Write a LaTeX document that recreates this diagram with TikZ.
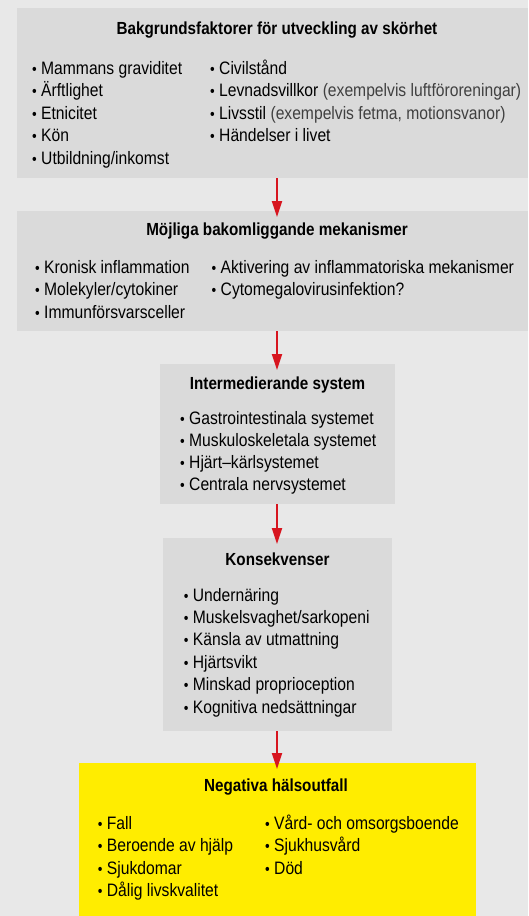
\documentclass[tikz,border=0pt]{standalone}
\usepackage{fontspec}
\setmainfont{Liberation Sans}[FakeStretch=0.87]
\usepackage{xcolor}
\usepackage{graphicx}
\usetikzlibrary{positioning, calc, arrows.meta}

\definecolor{bakgrund}{RGB}{232,232,232}
\definecolor{rutagra}{RGB}{218,218,218}
\definecolor{gul}{RGB}{255,237,0}
\definecolor{pilrod}{RGB}{215,21,31}
\newcommand{\pkt}{\makebox[9pt][l]{\scalebox{0.85}{•}}}
\newcommand{\lat}[1]{{\color{black!75}#1}}

\begin{document}
\begin{tikzpicture}[x=1pt, y=-1pt,
    ruta/.style={fill=rutagra, inner sep=0pt, anchor=north west},
    rubrik/.style={font=\bfseries\fontsize{17.5}{20}\selectfont, anchor=base, inner sep=0pt},
    lista/.style={font=\fontsize{18}{22.6}\selectfont, align=left, anchor=base west, inner sep=0pt},
    pil/.style={draw=pilrod, line width=1.8pt, -{Triangle[length=16pt, width=10pt]}}
]
    \useasboundingbox (0,0) rectangle (528,916);
    \fill[bakgrund] (0,0) rectangle (528,916);
    \coordinate (mitt) at (277,0);

    % rutorna
    \node[ruta, minimum width=511pt, minimum height=170pt] (bakgrundsfaktorer) at (17,8) {};
    \node[ruta, minimum width=511pt, minimum height=120pt] (mekanismer) at (17,211) {};
    \node[ruta, minimum width=235pt, minimum height=140pt] (intermediar) at (160,364) {};
    \node[ruta, minimum width=229pt, minimum height=193pt] (konsekvenser) at (163,538) {};
    \node[ruta, fill=gul, minimum width=397pt, minimum height=153pt] (halsoutfall) at (79,763) {};

    % texterna (ankaret base ligger på sista raden)
    \node[rubrik] (bakgrundsfaktorer-rubrik) at (277,34) {Bakgrundsfaktorer för utveckling av skörhet};
    \node[lista] (bakgrundsfaktorer-v) at (32,164.4) {\pkt Mammans graviditet\\ \pkt Ärftlighet\\ \pkt Etnicitet\\ \pkt Kön\\ \pkt Utbildning/inkomst};
    \node[lista] (bakgrundsfaktorer-h) at (210,141.8) {\pkt Civilstånd\\ \pkt Levnadsvillkor \lat{(exempelvis luftföroreningar)}\\ \pkt Livsstil \lat{(exempelvis fetma, motionsvanor)}\\ \pkt Händelser i livet};

    \node[rubrik] (mekanismer-rubrik) at (277,235) {Möjliga bakomliggande mekanismer};
    \node[lista] (mekanismer-v) at (35,318.2) {\pkt Kronisk inflammation\\ \pkt Molekyler/cytokiner\\ \pkt Immunförsvarsceller};
    \node[lista] (mekanismer-h) at (211.5,295.6) {\pkt Aktivering av inflammatoriska mekanismer\\ \pkt Cytomegalovirusinfektion?};

    \node[rubrik] (intermediar-rubrik) at (277.5,389) {Intermedierande system};
    \node[lista, font=\fontsize{18}{22}\selectfont] (intermediar-lista) at (180,490) {\pkt Gastrointestinala systemet\\ \pkt Muskuloskeletala systemet\\ \pkt Hjärt–kärlsystemet\\ \pkt Centrala nervsystemet};

    \node[rubrik] (konsekvenser-rubrik) at (277.5,565) {Konsekvenser};
    \node[lista, font=\fontsize{18}{22.4}\selectfont] (konsekvenser-lista) at (183.7,713) {\pkt Undernäring\\ \pkt Muskelsvaghet/sarkopeni\\ \pkt Känsla av utmattning\\ \pkt Hjärtsvikt\\ \pkt Minskad proprioception\\ \pkt Kognitiva nedsättningar};

    \node[rubrik] (halsoutfall-rubrik) at (276,791) {Negativa hälsoutfall};
    \node[lista] (halsoutfall-v) at (97.7,896.8) {\pkt Fall\\ \pkt Beroende av hjälp\\ \pkt Sjukdomar\\ \pkt Dålig livskvalitet};
    \node[lista] (halsoutfall-h) at (265,874.2) {\pkt Vård- och omsorgsboende\\ \pkt Sjukhusvård\\ \pkt Död};

    % pilarna
    \draw[pil] (bakgrundsfaktorer.south -| mitt) -- ([yshift=-6pt]mekanismer.north -| mitt);
    \draw[pil] (mekanismer.south -| mitt) -- ([yshift=-6pt]intermediar.north -| mitt);
    \draw[pil] (intermediar.south -| mitt) -- ([yshift=-6pt]konsekvenser.north -| mitt);
    \draw[pil] (konsekvenser.south -| mitt) -- ([yshift=-6pt]halsoutfall.north -| mitt);
\end{tikzpicture}
\end{document}
